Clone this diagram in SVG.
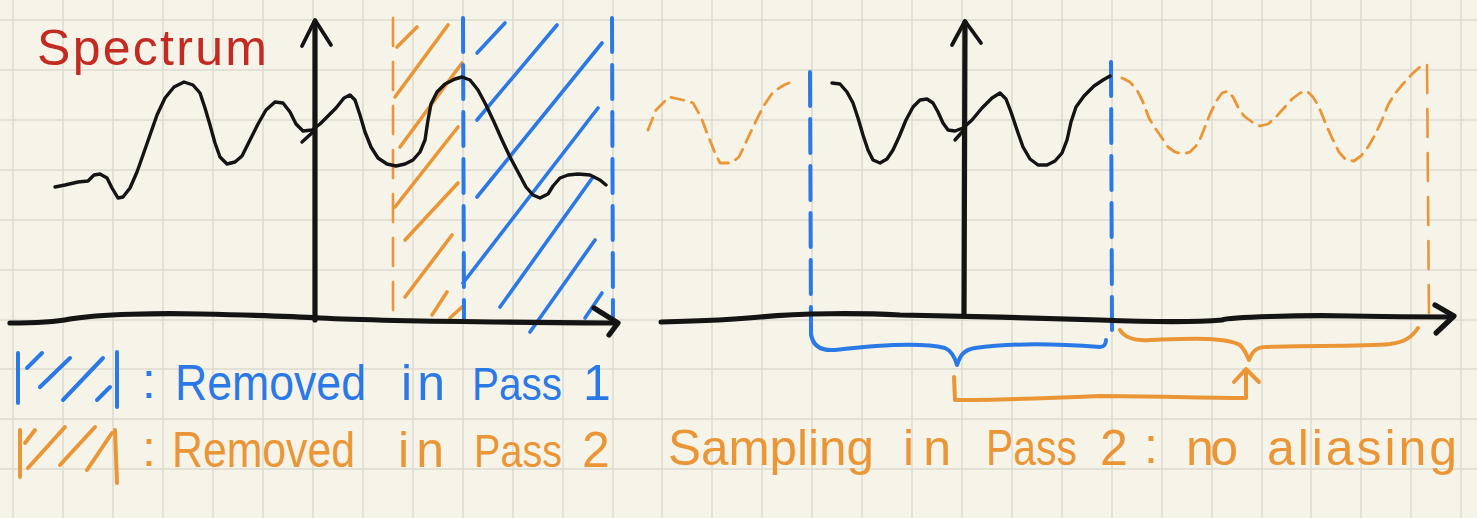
<svg xmlns="http://www.w3.org/2000/svg" width="1477" height="518" viewBox="0 0 1477 518">
<style>
.grid line{stroke:#dcdbd0;stroke-width:1.5}
.ink{fill:none;stroke-linecap:round;stroke-linejoin:round}
.blk{stroke:#141414}
.blu{stroke:#2b79e6}
.org{stroke:#ea9636}
.curve{stroke-width:3.4}
.axis{stroke-width:5.2}
.hatch{stroke-width:3.6}
.dashB{stroke-width:4;stroke-dasharray:34 13}
.dashO{stroke-width:2.6;stroke-dasharray:28 16}
.dashC{stroke-width:2.8;stroke-dasharray:13 8}
text{font-family:"Liberation Sans","DejaVu Sans",sans-serif}
.tB{fill:#2b79e6;font-size:50px}
.tO{fill:#ea9636;font-size:50px}
.tR{fill:#c22a22;font-size:50px}
.sm{font-size:46px}
</style>
<rect width="1477" height="518" fill="#f6f4e8"/>
<g class="grid" id="grid">
<line x1="13" y1="0" x2="13" y2="518"/><line x1="63" y1="0" x2="63" y2="518"/><line x1="113" y1="0" x2="113" y2="518"/><line x1="163" y1="0" x2="163" y2="518"/><line x1="213" y1="0" x2="213" y2="518"/><line x1="263" y1="0" x2="263" y2="518"/><line x1="313" y1="0" x2="313" y2="518"/><line x1="363" y1="0" x2="363" y2="518"/><line x1="413" y1="0" x2="413" y2="518"/><line x1="463" y1="0" x2="463" y2="518"/><line x1="513" y1="0" x2="513" y2="518"/><line x1="563" y1="0" x2="563" y2="518"/><line x1="613" y1="0" x2="613" y2="518"/><line x1="662" y1="0" x2="662" y2="518"/><line x1="712" y1="0" x2="712" y2="518"/><line x1="762" y1="0" x2="762" y2="518"/><line x1="812" y1="0" x2="812" y2="518"/><line x1="862" y1="0" x2="862" y2="518"/><line x1="912" y1="0" x2="912" y2="518"/><line x1="962" y1="0" x2="962" y2="518"/><line x1="1012" y1="0" x2="1012" y2="518"/><line x1="1062" y1="0" x2="1062" y2="518"/><line x1="1112" y1="0" x2="1112" y2="518"/><line x1="1162" y1="0" x2="1162" y2="518"/><line x1="1212" y1="0" x2="1212" y2="518"/><line x1="1262" y1="0" x2="1262" y2="518"/><line x1="1311" y1="0" x2="1311" y2="518"/><line x1="1361" y1="0" x2="1361" y2="518"/><line x1="1411" y1="0" x2="1411" y2="518"/><line x1="1461" y1="0" x2="1461" y2="518"/>
<line x1="0" y1="20" x2="1477" y2="20"/><line x1="0" y1="70" x2="1477" y2="70"/><line x1="0" y1="120" x2="1477" y2="120"/><line x1="0" y1="170" x2="1477" y2="170"/><line x1="0" y1="220" x2="1477" y2="220"/><line x1="0" y1="270" x2="1477" y2="270"/><line x1="0" y1="320" x2="1477" y2="320"/><line x1="0" y1="369" x2="1477" y2="369"/><line x1="0" y1="419" x2="1477" y2="419"/><line x1="0" y1="469" x2="1477" y2="469"/>
</g>

<g id="title">
<text class="tR" x="37" y="65" textLength="230" lengthAdjust="spacing">Spectrum</text>
</g>

<g id="left-plot">
<g id="left-hatch-orange" class="ink org hatch">
<line x1="397" y1="47" x2="417" y2="27"/>
<line x1="395" y1="97" x2="448" y2="25"/>
<line x1="400" y1="147" x2="462" y2="63"/>
<line x1="395" y1="207" x2="458" y2="127"/>
<line x1="405" y1="240" x2="458" y2="183"/>
<line x1="405" y1="297" x2="452" y2="235"/>
<line x1="432" y1="315" x2="447" y2="292"/>
<line x1="450" y1="318" x2="462" y2="307"/>
</g>
<g id="left-hatch-blue" class="ink blu hatch">
<line x1="477" y1="53" x2="505" y2="23"/>
<line x1="477" y1="120" x2="557" y2="25"/>
<line x1="477" y1="197" x2="602" y2="43"/>
<line x1="463" y1="283" x2="598" y2="108"/>
<line x1="500" y1="307" x2="593" y2="177"/>
<line x1="530" y1="332" x2="595" y2="240"/>
<line x1="585" y1="318" x2="602" y2="293"/>
</g>
<line class="ink org dashO" x1="393" y1="18" x2="393" y2="322"/>
<line class="ink blu dashB" x1="463" y1="18" x2="464" y2="322"/>
<line class="ink blu dashB" x1="612" y1="18" x2="613" y2="322"/>
<polyline class="ink blk curve" points="55,187 65,185 78,182 88,181 94,175 100,174 107,178 112,188 118,198 123,197 130,188 137,172 143,155 150,135 157,115 165,98 174,87 184,82 193,85 200,93 205,108 210,125 215,143 220,157 227,164 235,162 242,156 250,140 258,124 266,110 275,102 283,103 290,112 296,124 303,131 312,130 320,124 328,116 336,108 344,98 350,95 355,100 360,115 365,132 371,147 378,158 387,164 396,166 405,164 413,160 420,152 425,140 428,120 431,104 437,92 445,84 455,79 462,77 470,80 478,90 486,105 494,122 502,140 510,157 518,172 526,187 533,195 540,198 548,194 553,186 560,178 568,175 578,174 590,175 600,180 606,185"/>
<line class="ink blk curve" x1="302" y1="142" x2="313" y2="132"/>
<path class="ink blk axis" d="M10,323 C40,323 55,322 70,319 C100,314 160,313 200,314 C250,315 290,316 320,318 C380,321 450,322 612,323"/>
<path class="ink blk axis" d="M594,308 L618,323 L609,335"/>
<path class="ink blk axis" d="M315,320 L315,22"/>
<path class="ink blk" stroke-width="3.8" fill="none" stroke-linecap="round" stroke-linejoin="round" d="M302,46 L315,20 L331,45"/>
</g>

<g id="right-plot">
<line class="ink blu dashB" x1="810" y1="72" x2="811" y2="335"/>
<line class="ink blu dashB" x1="1111" y1="62" x2="1112" y2="330"/>
<line class="ink org dashO" x1="1427" y1="65" x2="1429" y2="318"/>
<polyline class="ink org dashC" points="648,130 656,110 669,97 683,100 693,103 701,117 707,133 715,153 720,163 731,163 739,157 747,140 755,123 763,107 773,92 784,85 789,83"/>
<polyline class="ink org dashC" points="1122,78 1130,82 1137,90 1143,102 1149,118 1155,128 1162,138 1168,147 1175,152 1183,154 1190,152 1196,146 1201,137 1206,124 1211,112 1217,100 1222,93 1228,91 1233,97 1238,107 1244,116 1252,122 1260,126 1268,124 1276,117 1284,108 1292,99 1300,93 1307,91 1313,97 1319,107 1325,122 1332,138 1339,152 1346,160 1354,161 1361,156 1368,147 1375,135 1382,120 1388,105 1394,95 1402,85 1412,74 1420,67 1425,64"/>
<polyline class="ink blk curve" points="832,83 840,84 847,92 853,103 858,118 863,135 868,150 873,160 880,163 887,159 893,150 899,137 906,120 913,107 920,100 927,99 933,103 938,112 943,123 948,130 955,131 963,128 972,120 982,108 992,98 1000,93 1006,99 1011,112 1017,130 1023,147 1030,159 1038,165 1047,165 1055,161 1062,153 1067,140 1071,122 1076,107 1084,96 1094,86 1103,80 1110,76"/>
<line class="ink blk curve" x1="955" y1="140" x2="963" y2="131"/>
<path class="ink blk axis" d="M661,322 C700,321 730,320 760,317 C800,313 860,313 900,315 C960,316 1040,318 1100,320 C1150,322 1200,322 1222,320 C1230,317 1300,315 1350,316 C1400,317 1430,317 1452,317"/>
<path class="ink blk axis" d="M1435,305 L1454,316 L1436,333"/>
<path class="ink blk axis" d="M964,316 L965,22"/>
<path class="ink blk" stroke-width="3.8" fill="none" stroke-linecap="round" stroke-linejoin="round" d="M952,45 L965,21 L981,43"/>
</g>

<g id="braces">
<path class="ink blu" stroke-width="4" d="M811,333 C812,345 820,351 835,350 C870,346 920,342 945,348 C952,351 955,358 957,365 C960,356 963,350 975,348 C1010,343 1060,344 1100,347 C1104,347 1106,344 1106,340"/>
<path class="ink org" stroke-width="4" d="M1120,330 C1125,338 1135,341 1150,340 C1180,339 1225,336 1240,345 C1245,350 1247,355 1249,360 C1252,352 1256,347 1265,347 C1300,345 1360,347 1390,344 C1405,342 1412,337 1418,328"/>
</g>

<g id="connectors">
<path class="ink org" stroke-width="4" d="M954,377 L955,400 C1000,400 1050,398 1100,396 C1150,396 1200,398 1246,398 L1246,371"/>
<path class="ink org" stroke-width="4" d="M1234,382 L1246,369 L1259,382"/>
</g>

<g id="legend-pass1">
<g class="ink blu" stroke-width="4">
<line x1="18" y1="353" x2="18" y2="403"/>
<line x1="27" y1="368" x2="42" y2="353"/>
<line x1="40" y1="387" x2="70" y2="358"/>
<line x1="63" y1="400" x2="103" y2="358"/>
<line x1="97" y1="400" x2="110" y2="387"/>
<line x1="117" y1="352" x2="117" y2="407"/>
</g>
<text class="tB" x="142" y="398">:</text>
<text class="tB" x="175" y="400" textLength="191" lengthAdjust="spacingAndGlyphs">Removed</text>
<text class="tB" x="401" y="400" textLength="44" lengthAdjust="spacing">in</text>
<text class="tB sm" x="472" y="400" textLength="90" lengthAdjust="spacingAndGlyphs">Pass</text>
<text class="tB" x="583" y="400">1</text>
</g>

<g id="legend-pass2">
<g class="ink org" stroke-width="4">
<line x1="20" y1="430" x2="20" y2="477"/>
<line x1="25" y1="443" x2="35" y2="430"/>
<line x1="28" y1="468" x2="65" y2="427"/>
<line x1="60" y1="465" x2="95" y2="427"/>
<line x1="87" y1="470" x2="112" y2="433"/>
<line x1="115" y1="430" x2="117" y2="483"/>
</g>
<text class="tO" x="142" y="466">:</text>
<text class="tO" x="172" y="467" textLength="183" lengthAdjust="spacingAndGlyphs">Removed</text>
<text class="tO" x="398" y="467" textLength="46" lengthAdjust="spacing">in</text>
<text class="tO sm" x="474" y="467" textLength="88" lengthAdjust="spacingAndGlyphs">Pass</text>
<text class="tO" x="582" y="467">2</text>
</g>

<g id="caption">
<text class="tO" x="668" y="465" textLength="206" lengthAdjust="spacingAndGlyphs">Sampling</text>
<text class="tO" x="903" y="465" textLength="48" lengthAdjust="spacing">in</text>
<text class="tO" x="986" y="465" textLength="91" lengthAdjust="spacingAndGlyphs">Pass</text>
<text class="tO" x="1100" y="465">2</text>
<text class="tO" x="1144" y="463">:</text>
<text class="tO" x="1186" y="465" textLength="52" lengthAdjust="spacing">no</text>
<text class="tO" x="1267" y="465" textLength="190" lengthAdjust="spacing">aliasing</text>
</g>
</svg>
